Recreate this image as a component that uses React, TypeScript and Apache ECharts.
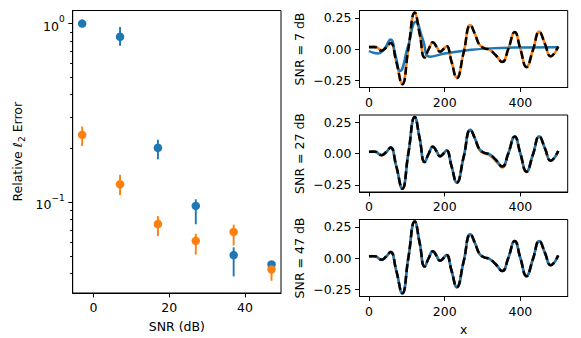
import React, { useEffect, useRef } from "react";
import * as echarts from "echarts";

// ---------- Left panel data ----------
const snrDb = [-3, 7, 17, 27, 37, 47];
const blueMean = [1.0, 0.844, 0.202, 0.0955, 0.0507, 0.0449];
const blueLo = [1.0, 0.753, 0.174, 0.0754, 0.0385, 0.0425];
const blueHi = [1.0, 0.958, 0.224, 0.104, 0.056, 0.047];
const orangeMean = [0.2385, 0.1263, 0.0756, 0.0609, 0.0683, 0.0421];
const orangeLo = [0.2066, 0.1098, 0.0647, 0.051, 0.0573, 0.0364];
const orangeHi = [0.2655, 0.1427, 0.0837, 0.0667, 0.075, 0.0453];

const logMajorTicks = [0.1, 1];
const logMinorTicks = [0.04, 0.05, 0.06, 0.07, 0.08, 0.09, 0.2, 0.3, 0.4, 0.5, 0.6, 0.7, 0.8, 0.9];
const snrTicks = [0, 20, 40];

// ---------- Right panels data ----------
const xTicks = [0, 200, 400];
const ampTicks = [-0.25, 0, 0.25];
const panelLabels = ["SNR = 7 dB", "SNR = 27 dB", "SNR = 47 dB"];

const signalX = [0, 15, 33, 45, 57, 72, 88, 104, 121, 134, 147, 158, 169, 178, 188, 197, 205, 218, 232, 250, 268, 280, 292, 305, 319, 335, 352, 368, 385, 400, 416, 433, 450, 465, 480, 500];
const truth = [0.015, 0.015, -0.013, 0.01, 0.049, -0.1, -0.282, 0.0, 0.293, 0.12, -0.068, 0.0, 0.055, 0.02, -0.022, 0.0, 0.025, -0.1, -0.233, -0.03, 0.19, 0.12, 0.033, 0.005, -0.008, -0.05, -0.104, 0.0, 0.137, 0.0, -0.145, -0.01, 0.137, 0.04, -0.057, 0.02];

const orange7 = [0.02, 0.022, -0.01, 0.012, 0.05, -0.1, -0.276, 0.0, 0.286, 0.12, -0.066, 0.0, 0.052, 0.02, -0.02, 0.0, 0.022, -0.1, -0.228, -0.03, 0.192, 0.12, 0.035, 0.01, -0.005, -0.05, -0.1, 0.0, 0.135, 0.0, -0.142, -0.01, 0.14, 0.04, -0.06, 0.02];
const blue7X = [0, 12, 24, 40, 57, 70, 82, 103, 124, 142, 161, 200, 257, 319, 407, 500];
const blue7 = [-0.016, -0.03, -0.035, 0.0, 0.077, -0.05, -0.175, 0.02, 0.218, 0.08, -0.061, -0.036, -0.012, 0.005, 0.012, 0.014];

const orange27 = [0.014, 0.016, -0.014, 0.01, 0.047, -0.1, -0.28, 0.0, 0.29, 0.12, -0.07, 0.0, 0.058, 0.02, -0.025, 0.0, 0.027, -0.1, -0.235, -0.03, 0.188, 0.12, 0.03, 0.0, -0.015, -0.06, -0.112, 0.0, 0.135, 0.0, -0.148, -0.01, 0.138, 0.04, -0.06, 0.02];
const blue27 = [0.015, 0.016, -0.012, 0.01, 0.048, -0.1, -0.28, 0.0, 0.29, 0.12, -0.067, 0.0, 0.055, 0.02, -0.021, 0.0, 0.025, -0.1, -0.232, -0.03, 0.19, 0.12, 0.034, 0.006, -0.006, -0.05, -0.102, 0.0, 0.137, 0.0, -0.145, -0.01, 0.137, 0.04, -0.056, 0.02];
const orange47 = [0.016, 0.015, -0.014, 0.01, 0.05, -0.1, -0.282, 0.0, 0.293, 0.12, -0.068, 0.0, 0.055, 0.02, -0.022, 0.0, 0.025, -0.1, -0.233, -0.03, 0.19, 0.12, 0.033, 0.004, -0.01, -0.05, -0.106, 0.0, 0.137, 0.0, -0.145, -0.01, 0.137, 0.04, -0.057, 0.022];
const blue47 = [0.015, 0.015, -0.013, 0.01, 0.049, -0.1, -0.282, 0.0, 0.293, 0.12, -0.068, 0.0, 0.055, 0.02, -0.022, 0.0, 0.025, -0.1, -0.233, -0.03, 0.19, 0.12, 0.033, 0.005, -0.008, -0.05, -0.104, 0.0, 0.137, 0.0, -0.145, -0.01, 0.137, 0.04, -0.057, 0.02];

const BLUE = "#1f77b4";
const ORANGE = "#ff7f0e";
const FONT = "DejaVu Sans";
const FS = 12.5;

const pairs = (xs: number[], ys: number[]) => xs.map((x, i) => [x, ys[i]]);

export default function App() {
  const ref = useRef<HTMLDivElement>(null);
  useEffect(() => {
    if (!ref.current) return;
    const chart = echarts.init(ref.current, null, { renderer: "svg" });

    const labelStyle = { color: "#000", fontFamily: FONT, fontSize: FS };
    const axisLine = { show: true, onZero: false, lineStyle: { color: "#000", width: 1 } };
    const tick = (vals: number[], len = 4.4) => ({
      show: true,
      length: len,
      customValues: vals,
      lineStyle: { color: "#000", width: 1 },
    });
    const fmtAmp = (v: number) => {
      const s = Math.abs(v).toFixed(2);
      return v < -1e-9 ? "\u2212" + s : s;
    };

    const rightTops = [10.5, 115, 219.5];
    const grids: any[] = [
      { left: 72.7, top: 10.5, width: 208.3, height: 285.5, show: true, borderColor: "#000", borderWidth: 1, backgroundColor: "transparent" },
      ...rightTops.map((t) => ({ left: 359.5, top: t, width: 208.2, height: 77, show: true, borderColor: "#000", borderWidth: 1, backgroundColor: "transparent" })),
    ];

    const xAxes: any[] = [
      {
        gridIndex: 0, type: "value", min: -5.5, max: 49.5,
        axisLine, axisTick: tick(snrTicks), splitLine: { show: false },
        axisLabel: { ...labelStyle, margin: 8, customValues: snrTicks },
        name: "SNR (dB)", nameLocation: "middle", nameGap: 27,
        nameTextStyle: { ...labelStyle },
      },
      ...[0, 1, 2].map((k) => ({
        gridIndex: k + 1, type: "value", min: -25, max: 525,
        axisLine, axisTick: tick(xTicks), splitLine: { show: false },
        axisLabel: { ...labelStyle, margin: 8, customValues: xTicks },
        name: k === 2 ? "x" : "", nameLocation: "middle", nameGap: 26,
        nameTextStyle: { ...labelStyle },
      })),
    ];

    const yAxes: any[] = [
      {
        gridIndex: 0, type: "log", logBase: 10, min: 0.0311, max: 1.184, position: "left",
        axisLine, axisTick: tick(logMajorTicks), splitLine: { show: false }, minorTick: { show: false },
        axisLabel: {
          ...labelStyle, margin: 8, customValues: logMajorTicks,
          formatter: (v: number) => (v > 0.5 ? "{b|10}{sup|0}" : "{b|10}{sup|\u22121}"),
          rich: {
            b: { fontFamily: FONT, fontSize: FS, color: "#000", lineHeight: 18, verticalAlign: "bottom" },
            sup: { fontFamily: FONT, fontSize: 9, color: "#000", lineHeight: 18, verticalAlign: "top" },
          },
        },
        name: "Relative {it|\u2113}{sub|2} Error", nameLocation: "middle", nameGap: 46, nameRotate: 90,
        nameTextStyle: {
          ...labelStyle, lineHeight: 18,
          rich: {
            it: { fontFamily: FONT, fontSize: FS, fontStyle: "italic", color: "#000", lineHeight: 18 },
            sub: { fontFamily: FONT, fontSize: 9, color: "#000", lineHeight: 18, verticalAlign: "bottom" },
          },
        },
      },
      {
        gridIndex: 0, type: "log", logBase: 10, min: 0.0311, max: 1.184, position: "left", offset: 0,
        axisLine: { show: false, onZero: false }, axisTick: tick(logMinorTicks, 2.5), splitLine: { show: false },
        axisLabel: { show: false },
      },
      ...[0, 1, 2].map((k) => ({
        gridIndex: k + 1, type: "value", min: -0.308, max: 0.308,
        axisLine, axisTick: tick(ampTicks), splitLine: { show: false },
        axisLabel: { ...labelStyle, margin: 8, customValues: ampTicks, formatter: fmtAmp },
        name: panelLabels[k], nameLocation: "middle", nameGap: 54, nameRotate: 90,
        nameTextStyle: { ...labelStyle },
      })),
    ];

    const errorBar = (lo: number[], hi: number[], color: string) => ({
      type: "custom",
      xAxisIndex: 0,
      yAxisIndex: 0,
      data: snrDb.map((x, i) => [x, lo[i], hi[i]]),
      encode: { x: 0, y: [1, 2] },
      renderItem: (params: any, api: any) => {
        const x = api.value(0);
        const a = api.coord([x, api.value(1)]);
        const b = api.coord([x, api.value(2)]);
        return {
          type: "line",
          shape: { x1: a[0], y1: a[1], x2: b[0], y2: b[1] },
          style: { stroke: color, lineWidth: 1.9 },
        };
      },
    });
    const dots = (ys: number[], color: string) => ({
      type: "scatter",
      xAxisIndex: 0,
      yAxisIndex: 0,
      data: pairs(snrDb, ys),
      symbol: "circle",
      symbolSize: 8.5,
      itemStyle: { color, opacity: 1 },
    });
    const line = (k: number, xs: number[], ys: number[], color: string, dashed = false) => ({
      type: "line",
      xAxisIndex: k + 1,
      yAxisIndex: k + 2,
      data: pairs(xs, ys),
      showSymbol: false,
      symbol: "none",
      smooth: 0.5,
      lineStyle: { color, width: 2.5, type: dashed ? [8, 3.5] : "solid", cap: "butt" },
    });

    const series: any[] = [
      errorBar(blueLo, blueHi, BLUE),
      dots(blueMean, BLUE),
      errorBar(orangeLo, orangeHi, ORANGE),
      dots(orangeMean, ORANGE),
      line(0, signalX, orange7, ORANGE),
      line(0, blue7X, blue7, BLUE),
      line(0, signalX, truth, "#000", true),
      line(1, signalX, orange27, ORANGE),
      line(1, signalX, blue27, BLUE),
      line(1, signalX, truth, "#000", true),
      line(2, signalX, orange47, ORANGE),
      line(2, signalX, blue47, BLUE),
      line(2, signalX, truth, "#000", true),
    ];

    chart.setOption({
      animation: false,
      backgroundColor: "#fff",
      textStyle: { fontFamily: FONT },
      grid: grids,
      xAxis: xAxes,
      yAxis: yAxes,
      series,
    });
    return () => chart.dispose();
  }, []);

  return (
    <div
      ref={ref}
      style={{ position: "fixed", left: 0, top: 0, width: 581, height: 338, background: "#fff" }}
    />
  );
}
